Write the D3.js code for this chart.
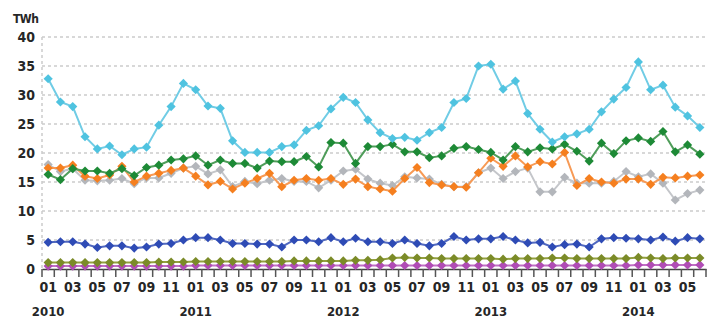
<!DOCTYPE html>
<html>
<head>
<meta charset="utf-8">
<title>TWh monthly</title>
<script src="https://cdn.jsdelivr.net/npm/d3@7/dist/d3.min.js"></script>
<style>
  body { margin: 0; background: #fff; }
  text { font-family: "DejaVu Sans Condensed", "DejaVu Sans", sans-serif; fill: #262626; font-weight: bold; }
</style>
</head>
<body>
<div id="chart"></div>
<script>
// months Jan 2010 .. Jun 2014
var years = [2010, 2011, 2012, 2013, 2014];
var months = [];
years.forEach(function(y) {
  for (var m = 1; m <= 12; m++) {
    if (y == 2014 && m > 6) break;
    months.push(y + "-" + (m < 10 ? "0" + m : m));
  }
});
var yTicks = [0, 5, 10, 15, 20, 25, 30, 35, 40];

var cyan = [32.8, 28.8, 28.0, 22.8, 20.7, 21.2, 19.7, 20.7, 21.0, 24.8, 28.0, 32.0,
            30.9, 28.1, 27.7, 22.1, 20.1, 20.1, 20.1, 21.1, 21.4, 23.9, 24.7, 27.6,
            29.6, 28.7, 25.7, 23.5, 22.5, 22.7, 22.2, 23.5, 24.4, 28.7, 29.4, 35.0,
            35.3, 31.0, 32.4, 26.8, 24.1, 21.9, 22.8, 23.3, 24.1, 27.1, 29.3, 31.3,
            35.7, 30.9, 31.7, 27.9, 26.4, 24.4];
var green = [16.3, 15.4, 17.3, 16.9, 16.9, 16.5, 17.3, 16.1, 17.5, 17.9, 18.8, 19.0,
             19.5, 17.9, 18.8, 18.2, 18.2, 17.4, 18.6, 18.5, 18.5, 19.4, 17.6, 21.8,
             21.7, 18.2, 21.1, 21.1, 21.5, 20.2, 20.2, 19.2, 19.5, 20.8, 21.1, 20.6,
             20.1, 18.8, 21.1, 20.2, 20.9, 20.7, 21.5, 20.3, 18.6, 21.7, 19.9, 22.1,
             22.6, 22.0, 23.7, 20.2, 21.4, 19.8];
var orange = [17.4, 17.4, 17.9, 16.0, 15.6, 16.2, 17.7, 15.0, 16.0, 16.5, 17.0, 17.4,
              16.0, 14.5, 15.1, 13.8, 14.8, 15.6, 16.5, 14.2, 15.3, 15.6, 15.3, 15.6,
              14.6, 15.5, 14.2, 13.8, 13.4, 15.6, 17.5, 14.9, 14.5, 14.2, 14.1, 16.6,
              19.1, 17.7, 19.5, 17.6, 18.5, 18.1, 20.1, 14.4, 15.6, 15.0, 14.8, 15.5,
              15.5, 14.6, 15.8, 15.7, 16.0, 16.2];
var grey = [18.0, 16.8, 17.3, 15.3, 15.2, 15.3, 15.6, 14.7, 15.7, 15.7, 16.5, 17.4,
            17.7, 16.4, 17.1, 14.2, 15.1, 14.7, 15.3, 15.6, 15.1, 15.1, 14.0, 15.3,
            16.9, 17.2, 15.5, 14.8, 14.4, 15.9, 15.7, 15.5, 14.6, 14.2, 14.2, 16.6,
            17.4, 15.6, 16.8, 17.4, 13.3, 13.3, 15.8, 14.8, 14.8, 14.8, 15.1, 16.8,
            15.9, 16.4, 14.8, 11.9, 13.0, 13.6];
var blue = [4.6, 4.7, 4.7, 4.3, 3.7, 4.0, 4.0, 3.6, 3.8, 4.3, 4.4, 5.0,
            5.4, 5.4, 5.0, 4.4, 4.4, 4.3, 4.3, 3.8, 5.0, 5.0, 4.7, 5.4,
            4.7, 5.3, 4.7, 4.7, 4.4, 5.0, 4.4, 4.0, 4.4, 5.6, 5.0, 5.2,
            5.2, 5.6, 5.0, 4.5, 4.6, 3.8, 4.2, 4.3, 3.8, 5.2, 5.4, 5.3,
            5.2, 5.0, 5.5, 4.8, 5.4, 5.2];
var olive = [1.1, 1.1, 1.1, 1.1, 1.1, 1.1, 1.1, 1.1, 1.1, 1.2, 1.2, 1.2,
             1.3, 1.3, 1.3, 1.3, 1.3, 1.3, 1.3, 1.3, 1.4, 1.4, 1.4, 1.4,
             1.4, 1.5, 1.5, 1.6, 1.9, 2.0, 1.9, 1.9, 1.8, 1.8, 1.8, 1.8,
             1.8, 1.7, 1.8, 1.8, 1.8, 1.9, 1.9, 1.8, 1.8, 1.8, 1.8, 1.8,
             2.0, 1.9, 1.8, 1.9, 1.9, 1.9];
var magenta = [0.5, 0.5, 0.5, 0.5, 0.5, 0.5, 0.5, 0.5, 0.5, 0.5, 0.5, 0.5,
               0.6, 0.6, 0.6, 0.6, 0.6, 0.6, 0.6, 0.6, 0.6, 0.6, 0.6, 0.6,
               0.6, 0.6, 0.6, 0.6, 0.6, 0.6, 0.6, 0.6, 0.6, 0.6, 0.6, 0.6,
               0.6, 0.6, 0.6, 0.6, 0.6, 0.6, 0.6, 0.6, 0.6, 0.6, 0.6, 0.6,
               0.7, 0.7, 0.7, 0.7, 0.7, 0.7];

// drawing order, bottom first
var series = [
  { name: "magenta", values: magenta, line: "#c070c4", mark: "#b04cb5" },
  { name: "olive",   values: olive,   line: "#93a040", mark: "#7b8b28" },
  { name: "blue",    values: blue,    line: "#5068c0", mark: "#2e4bb5" },
  { name: "grey",    values: grey,    line: "#c4c6ca", mark: "#b3b6bb" },
  { name: "orange",  values: orange,  line: "#f79a55", mark: "#f57f1f" },
  { name: "green",   values: green,   line: "#4f9d5a", mark: "#1d8a36" },
  { name: "cyan",    values: cyan,    line: "#70cce5", mark: "#4fc3e0" }
];

var width = 709, height = 320;
var svg = d3.select("#chart").append("svg")
  .attr("width", width)
  .attr("height", height);

var x = d3.scaleBand().domain(months).range([42, 706]);
var y = d3.scaleLinear().domain([0, 40]).range([269, 37]);
var cx = function(i) { return x(months[i]) + x.bandwidth() / 2; };

// grid lines
svg.selectAll("line.grid").data(yTicks.slice(1)).enter().append("line")
  .attr("class", "grid")
  .attr("x1", 42).attr("x2", 706)
  .attr("y1", function(d) { return y(d); })
  .attr("y2", function(d) { return y(d); })
  .style("stroke", "#cccccc")
  .style("stroke-width", 1.5)
  .style("stroke-dasharray", "3,3");

// dashed y axis line
svg.append("line")
  .attr("x1", 42).attr("x2", 42)
  .attr("y1", y(40)).attr("y2", y(0))
  .style("stroke", "#cccccc")
  .style("stroke-width", 1.5)
  .style("stroke-dasharray", "3,3");

// y tick labels
svg.selectAll("text.ylab").data(yTicks).enter().append("text")
  .attr("class", "ylab")
  .attr("x", 35)
  .attr("y", function(d) { return y(d); })
  .attr("dy", "0.36em")
  .attr("text-anchor", "end")
  .style("font-size", "14px")
  .text(function(d) { return d; });

svg.append("text")
  .attr("x", 13).attr("y", 23)
  .style("font-size", "12px")
  .style("letter-spacing", "-0.5px")
  .text("TWh");

// x axis with a tick at each month boundary
var xAxis = d3.axisBottom(x).tickSize(0).tickFormat("");
svg.append("g").attr("transform", "translate(0,269)").call(xAxis)
  .select(".domain").style("stroke", "#444").style("stroke-width", 1.5);

var bounds = months.map(function(m) { return x(m); }).concat([706]);
svg.selectAll("line.xtick").data(bounds).enter().append("line")
  .attr("class", "xtick")
  .attr("x1", function(d) { return d; })
  .attr("x2", function(d) { return d; })
  .attr("y1", 269).attr("y2", 277)
  .style("stroke", "#555")
  .style("stroke-width", 1.5);

// month labels on odd months
svg.selectAll("text.mlab").data(months.filter(function(m, i) { return i % 2 == 0; }))
  .enter().append("text")
  .attr("class", "mlab")
  .attr("x", function(d) { return x(d) + x.bandwidth() / 2; })
  .attr("y", 292)
  .attr("text-anchor", "middle")
  .style("font-size", "14px")
  .text(function(d) { return d.slice(5); });

// year labels under January
svg.selectAll("text.yr").data(years).enter().append("text")
  .attr("class", "yr")
  .attr("x", function(d) { return x(d + "-01") + x.bandwidth() / 2; })
  .attr("y", 316)
  .attr("text-anchor", "middle")
  .style("font-size", "13px")
  .text(function(d) { return d; });

// series
var line = d3.line()
  .x(function(d, i) { return cx(i); })
  .y(function(d) { return y(d); });
var diamond = d3.symbol().type(d3.symbolSquare).size(42);

series.forEach(function(s) {
  var g = svg.append("g").attr("class", "series " + s.name);
  g.append("path")
    .datum(s.values)
    .attr("d", line)
    .style("fill", "none")
    .style("stroke", s.line)
    .style("stroke-width", 2);
  g.selectAll("path.pt").data(s.values).enter().append("path")
    .attr("class", "pt")
    .attr("d", diamond)
    .attr("transform", function(d, i) { return "translate(" + cx(i) + "," + y(d) + ") rotate(45)"; })
    .style("fill", s.mark);
});
</script>
</body>
</html>
